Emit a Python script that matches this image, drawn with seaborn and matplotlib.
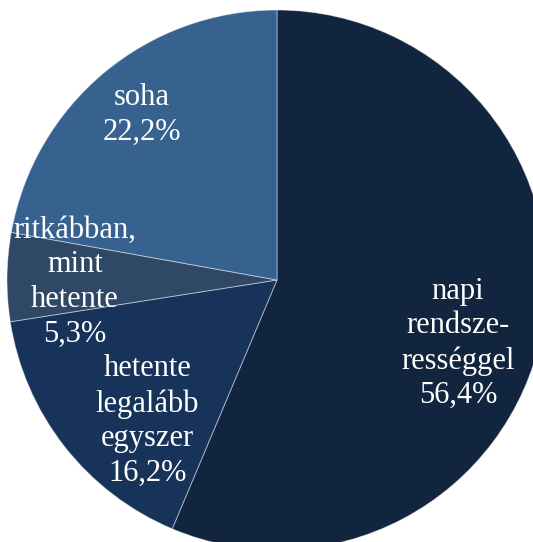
import matplotlib
matplotlib.use("Agg")
import matplotlib.pyplot as plt
import seaborn as sns

categories = ["napi\nrendsze-\nrességgel", "hetente\nlegalább\negyszer", "ritkábban,\nmint\nhetente", "soha"]
values = [56.4, 16.2, 5.3, 22.2]
colors = ["#12253f", "#17335a", "#2f4866", "#37618f"]
label_pos = [(0.670, -0.235), (-0.481, -0.522), (-0.748, -0.008), (-0.500, 0.612)]

sns.set_theme(style="white")
plt.rcParams['font.family'] = ['Liberation Serif', 'DejaVu Serif']

fig = plt.figure(figsize=(5.33, 5.42), dpi=100)
ax = fig.add_axes([0, 0, 1, 1])
ax.pie(values, colors=colors, startangle=90, counterclock=False, radius=1.0,
       wedgeprops=dict(edgecolor=(1, 1, 1, 0.45), linewidth=0.7))
for cat, v, (x, y) in zip(categories, values, label_pos):
    txt = f"{cat}\n{v:.1f}%".replace(".", ",")
    ax.text(x, y, txt, ha="center", va="center", color="white", fontsize=22, linespacing=1.25)
ax.set_xlim(-277/270, (533-277)/270)
ax.set_ylim(-(542-280)/270, 280/270)
ax.set_aspect("auto")
ax.axis("off")
fig.savefig("out.png", dpi=100)
